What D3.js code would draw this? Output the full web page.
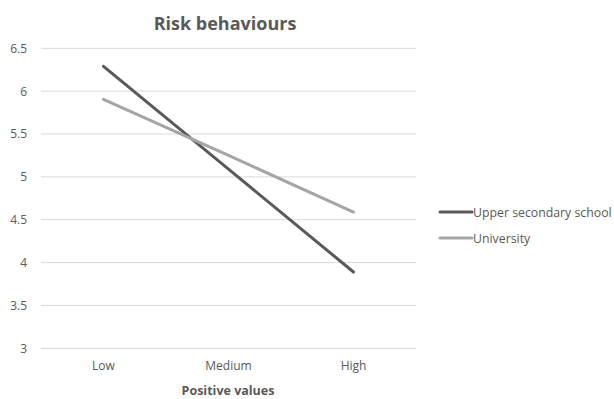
<!DOCTYPE html>
<html>
<head>
<meta charset="utf-8">
<script src="https://d3js.org/d3.v7.min.js"></script>
<style>
  html, body { margin: 0; padding: 0; background: #fff; }
  svg { display: block; }
  text { font-family: "Open Sans", "Noto Sans", sans-serif; fill: #595959; }
</style>
</head>
<body>
<div id="chart"></div>
<script>
// Risk behaviour scores by level of positive values
const categories = ["Low", "Medium", "High"];
const seriesNames = ["Upper secondary school", "University"];
const upperSecondary = [6.29, 5.09, 3.89];
const university = [5.905, 5.25, 4.59];
const yTicks = [3, 3.5, 4, 4.5, 5, 5.5, 6, 6.5];
const seriesColors = ["#595959", "#a5a5a5"];

const W = 614, H = 399;
const plotLeft = 41, plotRight = 416, plotTop = 48.3, plotBottom = 348.3;

const svg = d3.select("#chart").append("svg")
  .attr("width", W).attr("height", H);

const x = d3.scaleBand().domain(categories).range([plotLeft, plotRight]);
const y = d3.scaleLinear().domain([3, 6.5]).range([plotBottom, plotTop]);

// horizontal gridlines
svg.append("g")
  .selectAll("line")
  .data(yTicks)
  .join("line")
  .attr("x1", plotLeft).attr("x2", plotRight)
  .attr("y1", d => y(d)).attr("y2", d => y(d))
  .attr("stroke", "#d9d9d9").attr("stroke-width", 1);

// y-axis labels
const yAxis = d3.axisLeft(y).tickValues(yTicks).tickSize(0).tickPadding(0)
  .tickFormat(d3.format("~g"));
svg.append("g")
  .attr("transform", `translate(${plotLeft - 14},0)`)
  .call(yAxis)
  .call(g => g.select(".domain").remove())
  .call(g => g.selectAll("text")
    .attr("font-size", 12)
    .attr("font-family", "'Open Sans', sans-serif")
    .attr("fill", "#595959"));

// x-axis labels
const xAxis = d3.axisBottom(x).tickSize(0).tickPadding(0);
svg.append("g")
  .attr("transform", `translate(0,${plotBottom + 13})`)
  .call(xAxis)
  .call(g => g.select(".domain").remove())
  .call(g => g.selectAll("text")
    .attr("font-size", 12)
    .attr("font-family", "'Open Sans', sans-serif")
    .attr("fill", "#595959"));

// series lines
const line = d3.line()
  .x((d, i) => x(categories[i]) + x.bandwidth() / 2)
  .y(d => y(d));

[upperSecondary, university].forEach((vals, k) => {
  svg.append("path")
    .datum(vals)
    .attr("d", line)
    .attr("fill", "none")
    .attr("stroke", seriesColors[k])
    .attr("stroke-width", 3)
    .attr("stroke-linecap", "round")
    .attr("stroke-linejoin", "round");
});

// title
svg.append("text")
  .attr("x", 225)
  .attr("y", 30)
  .attr("text-anchor", "middle")
  .attr("font-size", 18)
  .attr("font-weight", "bold")
  .text("Risk behaviours");

// x-axis title
svg.append("text")
  .attr("x", 228)
  .attr("y", 395)
  .attr("text-anchor", "middle")
  .attr("font-size", 12.5)
  .attr("font-weight", "bold")
  .text("Positive values");

// legend
const legend = svg.append("g");
seriesNames.forEach((name, k) => {
  const ly = 212 + k * 26;
  legend.append("line")
    .attr("x1", 440).attr("x2", 472)
    .attr("y1", ly).attr("y2", ly)
    .attr("stroke", seriesColors[k])
    .attr("stroke-width", 3)
    .attr("stroke-linecap", "round");
  legend.append("text")
    .attr("x", 473).attr("y", ly + 4.5)
    .attr("font-size", 12.3)
    .text(name);
});
</script>
</body>
</html>
